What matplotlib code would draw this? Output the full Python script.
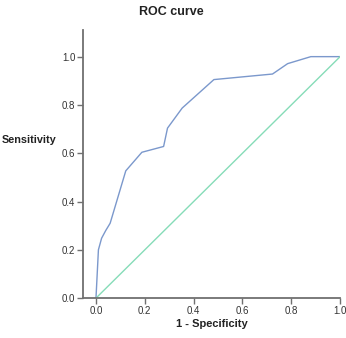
import matplotlib
matplotlib.use('Agg')
import matplotlib.pyplot as plt

# ROC points
fpr = [0.0, 0.003, 0.01, 0.023, 0.04, 0.058, 0.122, 0.188, 0.277, 0.293, 0.353, 0.483, 0.723, 0.785, 0.88, 1.0]
tpr = [0.0, 0.06, 0.20, 0.248, 0.28, 0.31, 0.527, 0.604, 0.628, 0.704, 0.787, 0.905, 0.928, 0.971, 1.0, 1.0]
ref_x = [0.0, 1.0]
ref_y = [0.0, 1.0]
xticks = [0.0, 0.2, 0.4, 0.6, 0.8, 1.0]
yticks = [0.0, 0.2, 0.4, 0.6, 0.8, 1.0]

plt.rcParams['font.family'] = ['Liberation Sans', 'DejaVu Sans']

fig = plt.figure(figsize=(3.46, 3.38), dpi=100)
ax = fig.add_axes([0.24, 0.118, 0.743, 0.793])

ax.plot(fpr, tpr, color='#7b98cc', lw=1.0)
ax.plot(ref_x, ref_y, color='#86dcb8', lw=1.0)

ax.set_xlim(-0.053, 1.0)
ax.set_ylim(0.0, 1.11)
ax.set_xticks(xticks)
ax.set_yticks(yticks)
ax.set_xticklabels([f'{v:.1f}' for v in xticks])
ax.set_yticklabels([f'{v:.1f}' for v in yticks])

for s in ['top', 'right']:
    ax.spines[s].set_visible(False)
for s in ['left', 'bottom']:
    ax.spines[s].set_color('#707070')
    ax.spines[s].set_linewidth(1.3)
ax.tick_params(direction='out', length=4, width=1.0, color='#707070',
               labelsize=7, labelcolor='#333333', pad=1.5)

ax.set_xlabel('1 - Specificity', fontsize=8, fontweight='bold', color='#222222', labelpad=2)
fig.text(0.005, 0.585, 'Sensitivity', fontsize=7.8, fontweight='bold', color='#222222',
         ha='left', va='center')
fig.text(0.495, 0.965, 'ROC curve', fontsize=9, fontweight='bold', color='#222222',
         ha='center', va='center')

fig.savefig('out.png', dpi=100)
